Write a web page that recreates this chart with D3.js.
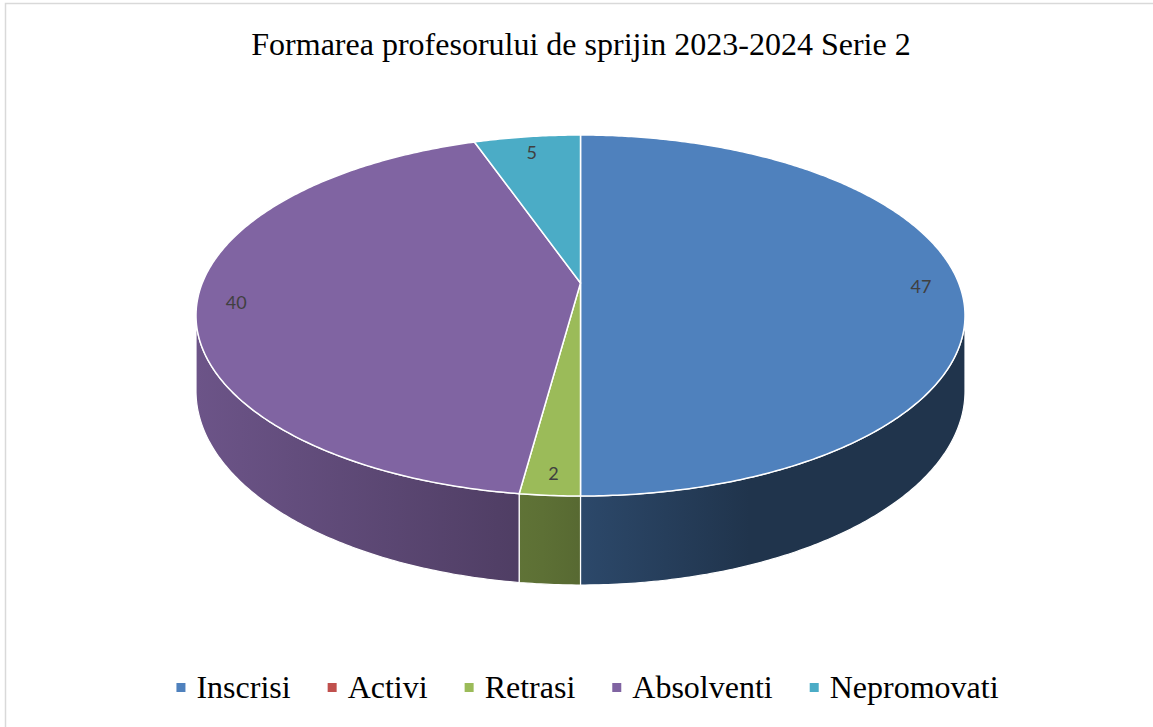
<!DOCTYPE html>
<html>
<head>
<meta charset="utf-8">
<script src="https://cdn.jsdelivr.net/npm/d3@7"></script>
<style>
  body { margin: 0; background: #fff; }
  svg { display: block; }
</style>
</head>
<body>
<svg id="chart" width="1153" height="727"></svg>
<script>
// data
const categories = ['Inscrisi', 'Activi', 'Retrasi', 'Absolventi', 'Nepromovati']
const values = [47, 0, 2, 40, 5]
const colors = ['#4f81bd', '#c0504d', '#9bbb59', '#8064a2', '#4bacc6']
const chartTitle = 'Formarea profesorului de sprijin 2023-2024 Serie 2'

// outline of the top face (an ellipse) and perspective strength
const cx = 580.5, cy = 315.5
const rx = 384.5, ry = 180.5
const persp = 0.18
const depth = 89

// perspective projection of the unit circle onto that ellipse
const A = rx * Math.sqrt(1 - persp * persp)
const B = ry * (1 - persp * persp)
const y0 = cy - ry + B / (1 + persp)      // where the pie centre lands
const D = depth * (1 - persp)

function pt(a, r, down) {
    r = r === undefined ? 1 : r
    let w = 1 + persp * r * Math.cos(a)
    let x = cx + A * r * Math.sin(a) / w
    let y = y0 - B * r * Math.cos(a) / w
    if (down) y += D / w
    return [x, y]
}

function arcPts(a0, a1, down) {
    let n = Math.max(2, Math.ceil(Math.abs(a1 - a0) / 0.01))
    return d3.range(n + 1).map(k => pt(a0 + (a1 - a0) * k / n, 1, down))
}

let svg = d3.select('#chart')
let defs = svg.append('defs')

// chart area border (only left/top visible in the picture)
svg.append('rect').attr('x', 5.5).attr('y', 3.5).attr('width', 1170).attr('height', 760)
   .attr('fill', '#fff').attr('stroke', '#d9d9d9').attr('stroke-width', 1.5)

svg.append('text').text(chartTitle)
   .attr('x', 581).attr('y', 55)
   .attr('text-anchor', 'middle')
   .attr('font-family', '"Liberation Serif", "Times New Roman", serif')
   .attr('font-size', 32).attr('fill', '#000')

let pie = d3.pie().sort(null).value(d => d.v)
let arcs = pie(categories.map((c, i) => ({name: c, v: values[i], color: colors[i]})))

// side shading: lighter on the left, darker on the right
function shade(col, f) {
    let c = d3.rgb(col)
    return d3.rgb(c.r * f, c.g * f, c.b * f).toString()
}
colors.forEach((col, i) => {
    let g = defs.append('linearGradient').attr('id', 'side' + i)
        .attr('gradientUnits', 'userSpaceOnUse')
        .attr('x1', cx - rx).attr('x2', cx + rx).attr('y1', 0).attr('y2', 0)
    ;[[0, 0.84], [0.45, 0.6], [0.72, 0.4], [1, 0.4]].forEach(s => {
        g.append('stop').attr('offset', s[0]).attr('stop-color', shade(col, s[1]))
    })
})

let line = d3.line()
let sides = svg.append('g')
let tops = svg.append('g')

// visible part of the wall lies between the two tangent points
const wallFrom = Math.acos(-persp), wallTo = 2 * Math.PI - Math.acos(-persp)

arcs.forEach((d, i) => {
    if (d.data.v <= 0) return
    let a0 = Math.max(d.startAngle, wallFrom)
    let a1 = Math.min(d.endAngle, wallTo)
    if (a1 > a0) {
        let pts = arcPts(a0, a1, false).concat(arcPts(a1, a0, true))
        sides.append('path').attr('d', line(pts) + 'Z').attr('fill', `url(#side${i})`)
             .attr('stroke', '#fff').attr('stroke-width', 1.2).attr('stroke-linejoin', 'round')
    }
    let pts = [pt(0, 0)].concat(arcPts(d.startAngle, d.endAngle, false))
    tops.append('path')
        .attr('d', line(pts) + 'Z')
        .attr('fill', d.data.color)
        .attr('stroke', '#fff').attr('stroke-width', 1.5).attr('stroke-linejoin', 'round')
})

// data labels
svg.append('g').selectAll('text').data(arcs.filter(d => d.data.v > 0)).join('text')
   .text(d => d.data.v)
   .attr('x', d => pt((d.startAngle + d.endAngle) / 2, 0.9)[0])
   .attr('y', d => pt((d.startAngle + d.endAngle) / 2, 0.9)[1] + 3)
   .attr('text-anchor', 'middle').attr('dominant-baseline', 'central')
   .attr('font-family', 'Lato, Carlito, Calibri, sans-serif')
   .attr('font-size', 18).attr('fill', '#404040')

// legend
let legend = svg.append('g')
let lx = 0, gap = 37
categories.forEach((c, i) => {
    let g = legend.append('g').attr('transform', `translate(${lx},0)`)
    g.append('rect').attr('x', 0).attr('y', -5).attr('width', 9).attr('height', 9).attr('fill', colors[i])
    let t = g.append('text').text(c).attr('x', 20).attr('y', 10)
        .attr('font-family', '"Liberation Serif", "Times New Roman", serif')
        .attr('font-size', 32).attr('fill', '#000')
    lx += 20 + t.node().getComputedTextLength() + gap
})
let legendW = lx - gap
legend.attr('transform', `translate(${587.5 - legendW / 2},688)`)
</script>
</body>
</html>
